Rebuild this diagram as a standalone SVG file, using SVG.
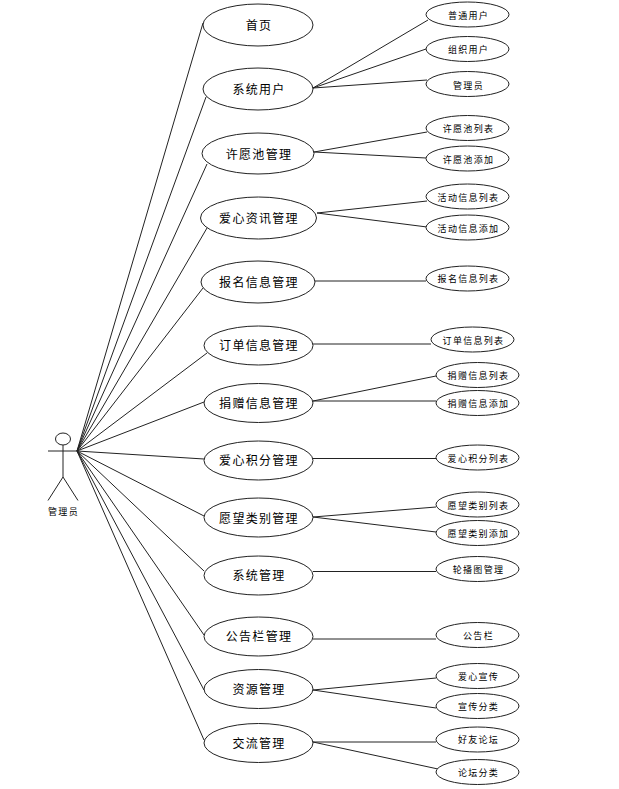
<svg xmlns="http://www.w3.org/2000/svg" width="619" height="789" viewBox="0 0 619 789">
<style>
text{font-family:"Noto Sans CJK SC","Liberation Sans",sans-serif;fill:#000;text-anchor:middle;dominant-baseline:central}
.a text{font-size:12px;letter-spacing:1.3px}
.b text{font-size:9px;letter-spacing:1.3px}
ellipse{fill:#fff;stroke:#222;stroke-width:1}
line{stroke:#222;stroke-width:1;fill:none}
</style>
<rect width="619" height="789" fill="#fff"/>
<g id="connectors">
<line x1="77" y1="451" x2="203" y2="23"/><line x1="77" y1="451" x2="206" y2="97"/><line x1="77" y1="451" x2="207" y2="164"/><line x1="77" y1="451" x2="207" y2="228"/><line x1="77" y1="451" x2="203" y2="288"/><line x1="77" y1="451" x2="207" y2="353"/><line x1="77" y1="451" x2="204" y2="402"/><line x1="77" y1="451" x2="204" y2="459"/><line x1="77" y1="451" x2="204" y2="516"/><line x1="77" y1="451" x2="204" y2="571"/><line x1="77" y1="451" x2="204" y2="635"/><line x1="77" y1="451" x2="204" y2="690"/><line x1="77" y1="451" x2="204" y2="740"/>
<line x1="313" y1="88" x2="428" y2="20"/><line x1="313" y1="88" x2="426" y2="49"/><line x1="313" y1="88" x2="427" y2="80"/>
<line x1="314" y1="152" x2="427" y2="132"/><line x1="314" y1="152" x2="426" y2="158"/>
<line x1="317" y1="213" x2="427" y2="201"/><line x1="317" y1="213" x2="427" y2="227"/>
<line x1="315" y1="281" x2="426" y2="281"/><line x1="313" y1="344" x2="431" y2="344"/>
<line x1="313" y1="401" x2="436" y2="376"/><line x1="313" y1="401" x2="436" y2="401"/>
<line x1="313" y1="458.500" x2="436" y2="458.500"/>
<line x1="313" y1="517" x2="436" y2="507"/><line x1="313" y1="517" x2="436" y2="532"/>
<line x1="313" y1="571.500" x2="436" y2="571.500"/><line x1="313" y1="639" x2="436" y2="639"/>
<line x1="313" y1="690" x2="436" y2="678"/><line x1="313" y1="690" x2="436" y2="708"/>
<line x1="313" y1="742" x2="436" y2="742"/><line x1="313" y1="742" x2="438" y2="769"/>
</g>
<g id="actor"><ellipse cx="63" cy="439" rx="7.500" ry="6"/><line x1="48" y1="451" x2="78" y2="451"/><line x1="63" y1="445" x2="63" y2="477"/><line x1="63" y1="477" x2="48" y2="500.500"/><line x1="63" y1="477" x2="78" y2="500.500"/><text x="63.500" y="511" style="font-size:9px;letter-spacing:1.3px">管理员</text></g>
<g class="a">
<g id="n1"><ellipse cx="258" cy="25" rx="55" ry="21"/><text x="259" y="24">首页</text></g>
<g id="n2"><ellipse cx="258" cy="89" rx="55" ry="21"/><text x="259" y="88">系统用户</text></g>
<g id="n3"><ellipse cx="258" cy="153.500" rx="56" ry="20.500"/><text x="259" y="153">许愿池管理</text></g>
<g id="n4"><ellipse cx="258.500" cy="218" rx="58" ry="21"/><text x="259" y="217">爱心资讯管理</text></g>
<g id="n5"><ellipse cx="258" cy="282" rx="57" ry="21"/><text x="259" y="281">报名信息管理</text></g>
<g id="n6"><ellipse cx="258.500" cy="345.500" rx="54.500" ry="19.500"/><text x="259" y="344">订单信息管理</text></g>
<g id="n7"><ellipse cx="258.500" cy="403" rx="54.500" ry="19.500"/><text x="259" y="402">捐赠信息管理</text></g>
<g id="n8"><ellipse cx="258.500" cy="460.500" rx="54.500" ry="19.500"/><text x="259" y="459">爱心积分管理</text></g>
<g id="n9"><ellipse cx="258.500" cy="517.500" rx="54.500" ry="19.500"/><text x="259" y="517">愿望类别管理</text></g>
<g id="n10"><ellipse cx="258.500" cy="575.500" rx="54.500" ry="19.500"/><text x="259" y="574">系统管理</text></g>
<g id="n11"><ellipse cx="258.500" cy="636.500" rx="54.500" ry="19.500"/><text x="259" y="635">公告栏管理</text></g>
<g id="n12"><ellipse cx="258.500" cy="689" rx="54.500" ry="19.500"/><text x="259" y="688">资源管理</text></g>
<g id="n13"><ellipse cx="258.500" cy="743" rx="54.500" ry="19.500"/><text x="259" y="742">交流管理</text></g>
</g>
<g class="b">
<g id="m1"><ellipse cx="467.500" cy="14.500" rx="41.500" ry="12.500"/><text x="468.500" y="15">普通用户</text></g>
<g id="m2"><ellipse cx="467.500" cy="49" rx="41.500" ry="12.500"/><text x="468.500" y="49">组织用户</text></g>
<g id="m3"><ellipse cx="467.500" cy="84" rx="41.500" ry="12.500"/><text x="468.500" y="85">管理员</text></g>
<g id="m4"><ellipse cx="467.500" cy="128" rx="41.500" ry="12.500"/><text x="468.500" y="128">许愿池列表</text></g>
<g id="m5"><ellipse cx="467.500" cy="158.500" rx="41.500" ry="12.500"/><text x="468.500" y="159">许愿池添加</text></g>
<g id="m6"><ellipse cx="467.500" cy="196.500" rx="41.500" ry="12.500"/><text x="468.500" y="197">活动信息列表</text></g>
<g id="m7"><ellipse cx="467.500" cy="227.500" rx="41.500" ry="12.500"/><text x="468.500" y="228">活动信息添加</text></g>
<g id="m8"><ellipse cx="467.500" cy="278.500" rx="41.500" ry="12.500"/><text x="468.500" y="278">报名信息列表</text></g>
<g id="m9"><ellipse cx="472.500" cy="339.500" rx="41.500" ry="12.500"/><text x="473.500" y="340">订单信息列表</text></g>
<g id="m10"><ellipse cx="477.500" cy="375" rx="41.500" ry="12.500"/><text x="478.500" y="375">捐赠信息列表</text></g>
<g id="m11"><ellipse cx="477.500" cy="403" rx="41.500" ry="12.500"/><text x="478.500" y="403">捐赠信息添加</text></g>
<g id="m12"><ellipse cx="477.500" cy="457.500" rx="41.500" ry="12.500"/><text x="478.500" y="458">爱心积分列表</text></g>
<g id="m13"><ellipse cx="477.500" cy="504.500" rx="41.500" ry="12.500"/><text x="478.500" y="505">愿望类别列表</text></g>
<g id="m14"><ellipse cx="477.500" cy="533" rx="41.500" ry="12.500"/><text x="478.500" y="533">愿望类别添加</text></g>
<g id="m15"><ellipse cx="477.500" cy="569" rx="41.500" ry="12.500"/><text x="478.500" y="569">轮播图管理</text></g>
<g id="m16"><ellipse cx="477.500" cy="635" rx="41.500" ry="12.500"/><text x="478.500" y="635">公告栏</text></g>
<g id="m17"><ellipse cx="477.500" cy="676" rx="41.500" ry="12.500"/><text x="478.500" y="676">爱心宣传</text></g>
<g id="m18"><ellipse cx="477.500" cy="706" rx="41.500" ry="12.500"/><text x="478.500" y="706">宣传分类</text></g>
<g id="m19"><ellipse cx="477.500" cy="739.500" rx="41.500" ry="12.500"/><text x="478.500" y="739">好友论坛</text></g>
<g id="m20"><ellipse cx="477.500" cy="772" rx="41.500" ry="12.500"/><text x="478.500" y="772">论坛分类</text></g>
</g>
</svg>
